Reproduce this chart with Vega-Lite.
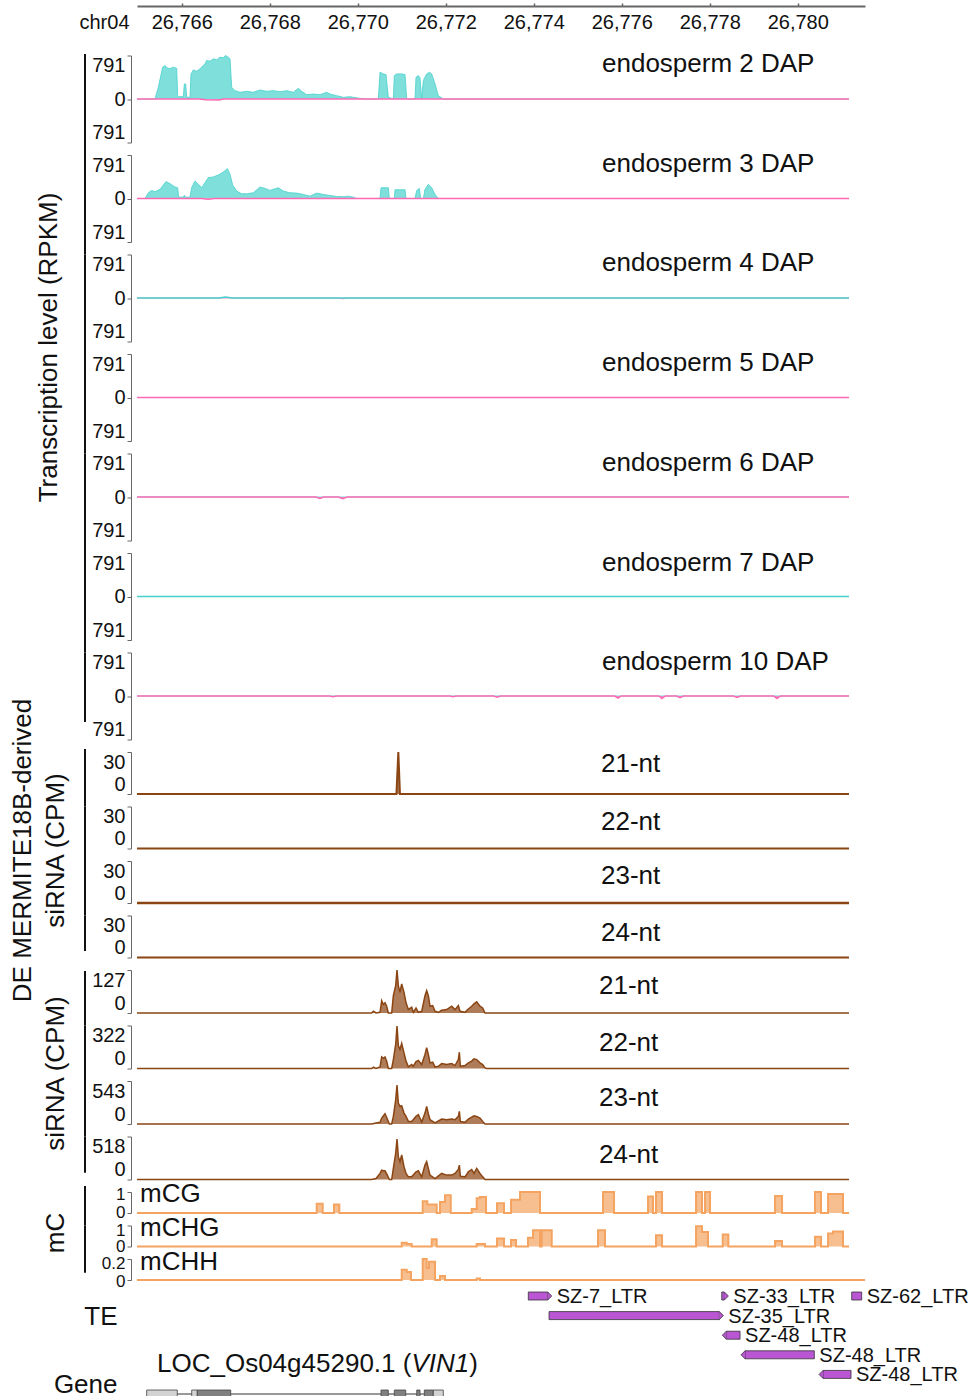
{
"$schema": "https://vega.github.io/schema/vega-lite/v6.json",
"padding": {"left": 9, "top": 2, "right": 5, "bottom": 0},
"background": "white",
"spacing": 12.5,
"bounds": "flush",
"config": {
 "font": "Liberation Sans",
 "view": {"stroke": null},
 "axis": {"grid": false, "labelColor": "#111", "titleColor": "#111", "titleFontWeight": "normal", "labelOverlap": false},
 "axisY": {"domainColor": "#666", "tickColor": "#666", "tickSize": 4, "labelFontSize": 20, "labelPadding": 2, "offset": 6, "titleFontSize": 26, "labelFlush": true},
 "area": {"opacity": 1},
 "text": {"fontSize": 26, "color": "#111"}
},
"datasets": {
 "flat": [{"pos":26764.984,"val":0},{"pos":26781.165,"val":0}],
 "e2p": [{"pos":26764.984,"val":0},{"pos":26765.393,"val":0},{"pos":26765.469,"val":213},{"pos":26765.567,"val":578},{"pos":26765.620,"val":608},{"pos":26765.673,"val":566},{"pos":26765.734,"val":548},{"pos":26765.795,"val":578},{"pos":26765.886,"val":560},{"pos":26765.908,"val":61},{"pos":26765.931,"val":43},{"pos":26766.037,"val":43},{"pos":26766.060,"val":274},{"pos":26766.090,"val":274},{"pos":26766.113,"val":43},{"pos":26766.151,"val":30},{"pos":26766.189,"val":30},{"pos":26766.211,"val":456},{"pos":26766.264,"val":529},{"pos":26766.340,"val":505},{"pos":26766.416,"val":548},{"pos":26766.529,"val":639},{"pos":26766.567,"val":700},{"pos":26766.643,"val":688},{"pos":26766.719,"val":730},{"pos":26766.795,"val":712},{"pos":26766.870,"val":761},{"pos":26766.946,"val":748},{"pos":26766.992,"val":791},{"pos":26767.060,"val":761},{"pos":26767.098,"val":730},{"pos":26767.136,"val":213},{"pos":26767.211,"val":152},{"pos":26767.325,"val":122},{"pos":26767.476,"val":140},{"pos":26767.628,"val":122},{"pos":26767.779,"val":164},{"pos":26767.931,"val":140},{"pos":26768.082,"val":152},{"pos":26768.234,"val":134},{"pos":26768.386,"val":152},{"pos":26768.537,"val":122},{"pos":26768.651,"val":195},{"pos":26768.726,"val":140},{"pos":26768.840,"val":79},{"pos":26768.992,"val":91},{"pos":26769.143,"val":79},{"pos":26769.295,"val":122},{"pos":26769.370,"val":91},{"pos":26769.522,"val":61},{"pos":26769.673,"val":30},{"pos":26769.825,"val":43},{"pos":26769.901,"val":30},{"pos":26770.052,"val":12},{"pos":26770.166,"val":0},{"pos":26770.469,"val":0},{"pos":26770.507,"val":487},{"pos":26770.582,"val":456},{"pos":26770.643,"val":444},{"pos":26770.696,"val":30},{"pos":26770.810,"val":0},{"pos":26770.832,"val":426},{"pos":26770.886,"val":456},{"pos":26770.999,"val":456},{"pos":26771.075,"val":444},{"pos":26771.113,"val":0},{"pos":26771.302,"val":0},{"pos":26771.325,"val":396},{"pos":26771.378,"val":426},{"pos":26771.416,"val":383},{"pos":26771.454,"val":0},{"pos":26771.492,"val":335},{"pos":26771.567,"val":456},{"pos":26771.628,"val":487},{"pos":26771.681,"val":456},{"pos":26771.757,"val":274},{"pos":26771.832,"val":61},{"pos":26771.946,"val":0},{"pos":26781.165,"val":0}],
 "e2m": [{"pos":26764.984,"val":0},{"pos":26766.40,"val":0},{"pos":26766.55,"val":-15},{"pos":26766.85,"val":-18},{"pos":26766.95,"val":0},{"pos":26781.165,"val":0}],
 "e3p": [{"pos":26764.984,"val":0},{"pos":26765.166,"val":0},{"pos":26765.242,"val":104},{"pos":26765.317,"val":147},{"pos":26765.393,"val":123},{"pos":26765.507,"val":166},{"pos":26765.643,"val":307},{"pos":26765.734,"val":270},{"pos":26765.848,"val":209},{"pos":26765.908,"val":196},{"pos":26765.931,"val":25},{"pos":26766.037,"val":25},{"pos":26766.060,"val":61},{"pos":26766.090,"val":25},{"pos":26766.189,"val":25},{"pos":26766.226,"val":196},{"pos":26766.302,"val":319},{"pos":26766.378,"val":257},{"pos":26766.454,"val":196},{"pos":26766.529,"val":288},{"pos":26766.605,"val":380},{"pos":26766.719,"val":392},{"pos":26766.870,"val":441},{"pos":26766.984,"val":503},{"pos":26767.037,"val":546},{"pos":26767.098,"val":441},{"pos":26767.158,"val":245},{"pos":26767.249,"val":135},{"pos":26767.363,"val":86},{"pos":26767.476,"val":86},{"pos":26767.628,"val":104},{"pos":26767.779,"val":209},{"pos":26767.893,"val":184},{"pos":26768.007,"val":147},{"pos":26768.082,"val":166},{"pos":26768.196,"val":196},{"pos":26768.310,"val":135},{"pos":26768.461,"val":104},{"pos":26768.613,"val":98},{"pos":26768.764,"val":74},{"pos":26768.916,"val":43},{"pos":26769.067,"val":98},{"pos":26769.219,"val":74},{"pos":26769.370,"val":55},{"pos":26769.522,"val":37},{"pos":26769.673,"val":31},{"pos":26769.787,"val":43},{"pos":26769.901,"val":25},{"pos":26769.976,"val":0},{"pos":26770.507,"val":0},{"pos":26770.529,"val":196},{"pos":26770.696,"val":196},{"pos":26770.719,"val":0},{"pos":26770.832,"val":0},{"pos":26770.848,"val":159},{"pos":26771.075,"val":159},{"pos":26771.098,"val":0},{"pos":26771.302,"val":0},{"pos":26771.340,"val":147},{"pos":26771.401,"val":184},{"pos":26771.431,"val":0},{"pos":26771.492,"val":0},{"pos":26771.529,"val":166},{"pos":26771.605,"val":257},{"pos":26771.681,"val":196},{"pos":26771.757,"val":74},{"pos":26771.832,"val":0},{"pos":26781.165,"val":0}],
 "e3m": [{"pos":26764.984,"val":0},{"pos":26766.45,"val":0},{"pos":26766.6,"val":-12},{"pos":26766.75,"val":0},{"pos":26781.165,"val":0}],
 "e4p": [{"pos":26764.984,"val":0},{"pos":26766.85,"val":0},{"pos":26767.0,"val":18},{"pos":26767.15,"val":0},{"pos":26781.165,"val":0}],
 "e4m": [{"pos":26764.984,"val":0},{"pos":26769.55,"val":0},{"pos":26769.66,"val":-15},{"pos":26769.77,"val":0},{"pos":26781.165,"val":0}],
 "e6m": [{"pos":26764.984,"val":0},{"pos":26769.05,"val":0},{"pos":26769.14,"val":-25},{"pos":26769.23,"val":0},{"pos":26769.56,"val":0},{"pos":26769.66,"val":-30},{"pos":26769.76,"val":0},{"pos":26781.165,"val":0}],
 "e10m": [{"pos":26764.984,"val":0},{"pos":26769.36,"val":0},{"pos":26769.439,"val":-15},{"pos":26769.52,"val":0},{"pos":26772.09,"val":0},{"pos":26772.166,"val":-15},{"pos":26772.24,"val":0},{"pos":26773.09,"val":0},{"pos":26773.166,"val":-20},{"pos":26773.24,"val":0},{"pos":26775.84,"val":0},{"pos":26775.916,"val":-40},{"pos":26775.99,"val":0},{"pos":26776.84,"val":0},{"pos":26776.916,"val":-45},{"pos":26776.99,"val":0},{"pos":26777.25,"val":0},{"pos":26777.325,"val":-30},{"pos":26777.40,"val":0},{"pos":26778.54,"val":0},{"pos":26778.620,"val":-25},{"pos":26778.70,"val":0},{"pos":26779.45,"val":0},{"pos":26779.529,"val":-45},{"pos":26779.61,"val":0},{"pos":26781.165,"val":0}],
 "de21": [{"pos":26764.984,"val":0},{"pos":26770.88,"val":0},{"pos":26770.923,"val":30},{"pos":26770.96,"val":0},{"pos":26781.165,"val":0}],
 "s21": [{"pos":26764.984,"val":0},{"pos":26770.317,"val":0},{"pos":26770.355,"val":5},{"pos":26770.416,"val":0},{"pos":26770.507,"val":2},{"pos":26770.545,"val":36},{"pos":26770.582,"val":25},{"pos":26770.620,"val":30},{"pos":26770.658,"val":20},{"pos":26770.696,"val":0},{"pos":26770.772,"val":0},{"pos":26770.810,"val":51},{"pos":26770.863,"val":81},{"pos":26770.893,"val":127},{"pos":26770.923,"val":81},{"pos":26770.961,"val":61},{"pos":26770.999,"val":86},{"pos":26771.052,"val":61},{"pos":26771.098,"val":30},{"pos":26771.151,"val":10},{"pos":26771.226,"val":17},{"pos":26771.264,"val":2},{"pos":26771.325,"val":15},{"pos":26771.378,"val":2},{"pos":26771.454,"val":5},{"pos":26771.529,"val":51},{"pos":26771.567,"val":66},{"pos":26771.605,"val":51},{"pos":26771.643,"val":20},{"pos":26771.704,"val":22},{"pos":26771.757,"val":5},{"pos":26771.832,"val":2},{"pos":26771.908,"val":8},{"pos":26772.022,"val":10},{"pos":26772.136,"val":20},{"pos":26772.211,"val":10},{"pos":26772.287,"val":22},{"pos":26772.325,"val":5},{"pos":26772.439,"val":2},{"pos":26772.514,"val":12},{"pos":26772.590,"val":20},{"pos":26772.643,"val":27},{"pos":26772.704,"val":33},{"pos":26772.779,"val":20},{"pos":26772.840,"val":15},{"pos":26772.893,"val":0},{"pos":26781.165,"val":0}],
 "s22": [{"pos":26764.984,"val":0},{"pos":26770.317,"val":0},{"pos":26770.355,"val":10},{"pos":26770.416,"val":0},{"pos":26770.507,"val":12},{"pos":26770.545,"val":87},{"pos":26770.582,"val":77},{"pos":26770.620,"val":87},{"pos":26770.658,"val":55},{"pos":26770.696,"val":0},{"pos":26770.772,"val":0},{"pos":26770.810,"val":67},{"pos":26770.863,"val":180},{"pos":26770.893,"val":317},{"pos":26770.923,"val":172},{"pos":26770.961,"val":142},{"pos":26770.999,"val":187},{"pos":26771.052,"val":117},{"pos":26771.098,"val":55},{"pos":26771.151,"val":12},{"pos":26771.226,"val":30},{"pos":26771.264,"val":17},{"pos":26771.325,"val":52},{"pos":26771.378,"val":60},{"pos":26771.454,"val":30},{"pos":26771.529,"val":105},{"pos":26771.567,"val":155},{"pos":26771.605,"val":105},{"pos":26771.643,"val":42},{"pos":26771.704,"val":47},{"pos":26771.757,"val":12},{"pos":26771.832,"val":17},{"pos":26771.908,"val":37},{"pos":26772.022,"val":30},{"pos":26772.136,"val":37},{"pos":26772.211,"val":22},{"pos":26772.287,"val":67},{"pos":26772.310,"val":122},{"pos":26772.332,"val":17},{"pos":26772.439,"val":22},{"pos":26772.514,"val":42},{"pos":26772.590,"val":55},{"pos":26772.643,"val":72},{"pos":26772.704,"val":67},{"pos":26772.779,"val":42},{"pos":26772.840,"val":30},{"pos":26772.893,"val":5},{"pos":26772.93,"val":0},{"pos":26781.165,"val":0}],
 "s23": [{"pos":26764.984,"val":0},{"pos":26770.317,"val":0},{"pos":26770.416,"val":13},{"pos":26770.507,"val":21},{"pos":26770.545,"val":75},{"pos":26770.620,"val":129},{"pos":26770.673,"val":63},{"pos":26770.719,"val":0},{"pos":26770.772,"val":0},{"pos":26770.810,"val":96},{"pos":26770.863,"val":305},{"pos":26770.893,"val":493},{"pos":26770.923,"val":263},{"pos":26770.961,"val":221},{"pos":26770.999,"val":230},{"pos":26771.052,"val":138},{"pos":26771.098,"val":96},{"pos":26771.151,"val":33},{"pos":26771.226,"val":33},{"pos":26771.325,"val":96},{"pos":26771.378,"val":117},{"pos":26771.454,"val":25},{"pos":26771.529,"val":138},{"pos":26771.567,"val":221},{"pos":26771.605,"val":129},{"pos":26771.643,"val":54},{"pos":26771.757,"val":13},{"pos":26771.908,"val":63},{"pos":26772.022,"val":54},{"pos":26772.136,"val":63},{"pos":26772.211,"val":54},{"pos":26772.287,"val":96},{"pos":26772.310,"val":159},{"pos":26772.332,"val":33},{"pos":26772.439,"val":21},{"pos":26772.514,"val":63},{"pos":26772.590,"val":88},{"pos":26772.643,"val":104},{"pos":26772.704,"val":96},{"pos":26772.779,"val":75},{"pos":26772.840,"val":33},{"pos":26772.893,"val":0},{"pos":26781.165,"val":0}],
 "s24": [{"pos":26764.984,"val":0},{"pos":26770.317,"val":0},{"pos":26770.416,"val":12},{"pos":26770.507,"val":73},{"pos":26770.545,"val":113},{"pos":26770.582,"val":105},{"pos":26770.620,"val":105},{"pos":26770.673,"val":53},{"pos":26770.719,"val":0},{"pos":26770.772,"val":0},{"pos":26770.810,"val":134},{"pos":26770.863,"val":316},{"pos":26770.893,"val":486},{"pos":26770.923,"val":275},{"pos":26770.961,"val":214},{"pos":26770.999,"val":295},{"pos":26771.052,"val":154},{"pos":26771.098,"val":73},{"pos":26771.151,"val":32},{"pos":26771.226,"val":32},{"pos":26771.325,"val":93},{"pos":26771.378,"val":105},{"pos":26771.454,"val":32},{"pos":26771.529,"val":174},{"pos":26771.567,"val":214},{"pos":26771.605,"val":134},{"pos":26771.643,"val":53},{"pos":26771.757,"val":12},{"pos":26771.908,"val":73},{"pos":26772.022,"val":53},{"pos":26772.136,"val":53},{"pos":26772.211,"val":73},{"pos":26772.287,"val":121},{"pos":26772.310,"val":174},{"pos":26772.332,"val":40},{"pos":26772.439,"val":32},{"pos":26772.514,"val":93},{"pos":26772.590,"val":121},{"pos":26772.643,"val":73},{"pos":26772.704,"val":134},{"pos":26772.779,"val":73},{"pos":26772.840,"val":32},{"pos":26772.893,"val":0},{"pos":26781.165,"val":0}],
 "mcg": [{"pos":26764.984,"val":0},{"pos":26769.068,"val":0.44},{"pos":26769.204,"val":0},{"pos":26769.461,"val":0.40},{"pos":26769.582,"val":0},{"pos":26771.477,"val":0.56},{"pos":26771.582,"val":0.40},{"pos":26771.795,"val":0},{"pos":26771.870,"val":0.52},{"pos":26771.984,"val":0.84},{"pos":26772.114,"val":0},{"pos":26772.591,"val":0.19},{"pos":26772.704,"val":0.70},{"pos":26772.779,"val":0.76},{"pos":26772.916,"val":0},{"pos":26773.166,"val":0.47},{"pos":26773.325,"val":0},{"pos":26773.484,"val":0.63},{"pos":26773.689,"val":1.0},{"pos":26774.143,"val":0},{"pos":26775.575,"val":1.0},{"pos":26775.825,"val":0},{"pos":26776.598,"val":0.79},{"pos":26776.711,"val":0},{"pos":26776.779,"val":1.0},{"pos":26776.916,"val":0},{"pos":26777.689,"val":1.0},{"pos":26777.825,"val":0},{"pos":26777.893,"val":1.0},{"pos":26778.007,"val":0},{"pos":26779.484,"val":0.81},{"pos":26779.643,"val":0},{"pos":26780.393,"val":1.0},{"pos":26780.529,"val":0},{"pos":26780.689,"val":0.9},{"pos":26781.029,"val":0},{"pos":26781.165,"val":0}],
 "mchg": [{"pos":26764.984,"val":0},{"pos":26771.0,"val":0.18},{"pos":26771.114,"val":0.12},{"pos":26771.227,"val":0},{"pos":26771.682,"val":0.35},{"pos":26771.795,"val":0},{"pos":26772.704,"val":0.12},{"pos":26772.893,"val":0},{"pos":26773.166,"val":0.38},{"pos":26773.325,"val":0},{"pos":26773.484,"val":0.31},{"pos":26773.598,"val":0},{"pos":26773.870,"val":0.42},{"pos":26773.984,"val":0.77},{"pos":26774.143,"val":0},{"pos":26774.182,"val":0.77},{"pos":26774.409,"val":0},{"pos":26775.461,"val":0.77},{"pos":26775.620,"val":0},{"pos":26776.779,"val":0.54},{"pos":26776.916,"val":0},{"pos":26777.689,"val":0.97},{"pos":26777.825,"val":0.69},{"pos":26777.961,"val":0},{"pos":26778.295,"val":0.57},{"pos":26778.423,"val":0},{"pos":26779.484,"val":0.26},{"pos":26779.643,"val":0},{"pos":26780.393,"val":0.46},{"pos":26780.529,"val":0},{"pos":26780.689,"val":0.62},{"pos":26780.802,"val":0.72},{"pos":26781.029,"val":0},{"pos":26781.165,"val":0}],
 "mchh": [{"pos":26764.984,"val":0},{"pos":26771.0,"val":0.098},{"pos":26771.114,"val":0.077},{"pos":26771.211,"val":0},{"pos":26771.477,"val":0.2},{"pos":26771.568,"val":0.114},{"pos":26771.620,"val":0.175},{"pos":26771.757,"val":0},{"pos":26771.870,"val":0.037},{"pos":26771.984,"val":0},{"pos":26772.704,"val":0.015},{"pos":26772.779,"val":0},{"pos":26781.53,"val":0}],
 "te": [{"name":"SZ-7_LTR","start":26773.877,"end":26774.409,"lane":1,"strand":"+"},{"name":"SZ-33_LTR","start":26778.273,"end":26778.423,"lane":1,"strand":"+"},{"name":"SZ-62_LTR","start":26781.227,"end":26781.454,"lane":1,"strand":"."},{"name":"SZ-35_LTR","start":26774.348,"end":26778.309,"lane":2,"strand":"+"},{"name":"SZ-48_LTR","start":26778.286,"end":26778.689,"lane":3,"strand":"-"},{"name":"SZ-48_LTR","start":26778.711,"end":26780.377,"lane":4,"strand":"-"},{"name":"SZ-48_LTR","start":26780.484,"end":26781.211,"lane":5,"strand":"-"}],
 "gene": [{"part":"intron","start":26765.204,"end":26771.945},{"part":"UTR","start":26765.204,"end":26765.900},{"part":"UTR","start":26766.227,"end":26766.354},{"part":"CDS","start":26766.354,"end":26767.114},{"part":"CDS","start":26770.529,"end":26770.695},{"part":"CDS","start":26770.832,"end":26771.091},{"part":"CDS","start":26771.341,"end":26771.416},{"part":"CDS","start":26771.514,"end":26771.718},{"part":"UTR","start":26771.718,"end":26771.945}]
},
"vconcat": [
 {"width":728,"height":37,"data":{"values":[{"pos":26770}]},"mark":{"type":"point","opacity":0},
  "encoding":{"x":{"field":"pos","type":"quantitative","scale":{"domain":[26764.984,26781.529],"nice":false},
   "axis":{"orient":"top","values":[26766,26768,26770,26772,26774,26776,26778,26780],"format":",d","tickSize":3,"labelPadding":-19,"labelBaseline":"middle","labelFontSize":20,"labelFlush":false,"domainColor":"#666","domainWidth":2,"tickColor":"#666","tickWidth":1.5,"title":"chr04","titleAngle":0,"titleX":-33,"titleY":16,"titleAlign":"center","titleBaseline":"middle","titleFontSize":20}}}},

 {"width":712,"height":87,"layer":[
  {"data":{"name":"e2p"},"mark":{"type":"area","color":"#48d1cc","line":{"color":"#48d1cc","strokeWidth":0.8}},"encoding":{"x":{"field":"pos","type":"quantitative","scale":{"domain":[26764.984,26781.165],"nice":false},"axis":null},"y":{"field":"val","type":"quantitative","scale":{"domain":[-791,791],"nice":false},"axis":{"values":[-791,0,791],"labelExpr":"abs(datum.value)","title":"Transcription level (RPKM)","titleX":-82.5,"titleY":291.5,"titleAngle":-90,"titleAlign":"center","titleBaseline":"middle"}}}},
  {"data":{"name":"e2m"},"mark":{"type":"area","color":"#ff69b4","line":{"color":"#ff69b4","strokeWidth":1.5}},"encoding":{"x":{"field":"pos","type":"quantitative"},"y":{"field":"val","type":"quantitative"}}},
  {"data":{"values":[{}]},"mark":{"type":"text","text":"endosperm 2 DAP","align":"left","baseline":"alphabetic","dy":16.5},"encoding":{"x":{"datum":26775.552},"y":{"datum":791}}},
  {"data":{"values":[{}]},"mark":{"type":"rule","color":"#111","strokeWidth":2,"xOffset":-52,"yOffset":-1.5,"y2Offset":12.5},"encoding":{"x":{"datum":26764.984},"y":{"datum":791},"y2":{"datum":-791}}}
 ]},
 {"width":712,"height":87,"layer":[
  {"data":{"name":"e3p"},"mark":{"type":"area","color":"#48d1cc","line":{"color":"#48d1cc","strokeWidth":0.8}},"encoding":{"x":{"field":"pos","type":"quantitative","scale":{"domain":[26764.984,26781.165],"nice":false},"axis":null},"y":{"field":"val","type":"quantitative","scale":{"domain":[-791,791],"nice":false},"axis":{"values":[-791,0,791],"labelExpr":"abs(datum.value)","title":null}}}},
  {"data":{"name":"e3m"},"mark":{"type":"area","color":"#ff69b4","line":{"color":"#ff69b4","strokeWidth":1.5}},"encoding":{"x":{"field":"pos","type":"quantitative"},"y":{"field":"val","type":"quantitative"}}},
  {"data":{"values":[{}]},"mark":{"type":"text","text":"endosperm 3 DAP","align":"left","baseline":"alphabetic","dy":16.5},"encoding":{"x":{"datum":26775.552},"y":{"datum":791}}},
  {"data":{"values":[{}]},"mark":{"type":"rule","color":"#111","strokeWidth":2,"xOffset":-52,"y2Offset":12.5},"encoding":{"x":{"datum":26764.984},"y":{"datum":791},"y2":{"datum":-791}}}
 ]},
 {"width":712,"height":87,"layer":[
  {"data":{"name":"e4m"},"mark":{"type":"area","color":"#ff69b4","line":{"color":"#ff69b4","strokeWidth":0.8}},"encoding":{"x":{"field":"pos","type":"quantitative","scale":{"domain":[26764.984,26781.165],"nice":false},"axis":null},"y":{"field":"val","type":"quantitative","scale":{"domain":[-791,791],"nice":false},"axis":{"values":[-791,0,791],"labelExpr":"abs(datum.value)","title":null}}}},
  {"data":{"name":"e4p"},"mark":{"type":"area","color":"#48d1cc","line":{"color":"#48d1cc","strokeWidth":1.5}},"encoding":{"x":{"field":"pos","type":"quantitative"},"y":{"field":"val","type":"quantitative"}}},
  {"data":{"values":[{}]},"mark":{"type":"text","text":"endosperm 4 DAP","align":"left","baseline":"alphabetic","dy":16.5},"encoding":{"x":{"datum":26775.552},"y":{"datum":791}}},
  {"data":{"values":[{}]},"mark":{"type":"rule","color":"#111","strokeWidth":2,"xOffset":-52,"y2Offset":12.5},"encoding":{"x":{"datum":26764.984},"y":{"datum":791},"y2":{"datum":-791}}}
 ]},
 {"width":712,"height":87,"layer":[
  {"data":{"name":"flat"},"mark":{"type":"area","color":"#48d1cc","line":{"color":"#48d1cc","strokeWidth":0.8}},"encoding":{"x":{"field":"pos","type":"quantitative","scale":{"domain":[26764.984,26781.165],"nice":false},"axis":null},"y":{"field":"val","type":"quantitative","scale":{"domain":[-791,791],"nice":false},"axis":{"values":[-791,0,791],"labelExpr":"abs(datum.value)","title":null}}}},
  {"data":{"name":"flat"},"mark":{"type":"area","color":"#ff69b4","line":{"color":"#ff69b4","strokeWidth":1.5}},"encoding":{"x":{"field":"pos","type":"quantitative"},"y":{"field":"val","type":"quantitative"}}},
  {"data":{"values":[{}]},"mark":{"type":"text","text":"endosperm 5 DAP","align":"left","baseline":"alphabetic","dy":17},"encoding":{"x":{"datum":26775.552},"y":{"datum":791}}},
  {"data":{"values":[{}]},"mark":{"type":"rule","color":"#111","strokeWidth":2,"xOffset":-52,"y2Offset":12.5},"encoding":{"x":{"datum":26764.984},"y":{"datum":791},"y2":{"datum":-791}}}
 ]},
 {"width":712,"height":87,"layer":[
  {"data":{"name":"flat"},"mark":{"type":"area","color":"#48d1cc","line":{"color":"#48d1cc","strokeWidth":0.8}},"encoding":{"x":{"field":"pos","type":"quantitative","scale":{"domain":[26764.984,26781.165],"nice":false},"axis":null},"y":{"field":"val","type":"quantitative","scale":{"domain":[-791,791],"nice":false},"axis":{"values":[-791,0,791],"labelExpr":"abs(datum.value)","title":null}}}},
  {"data":{"name":"e6m"},"mark":{"type":"area","color":"#ff69b4","line":{"color":"#ff69b4","strokeWidth":1.5}},"encoding":{"x":{"field":"pos","type":"quantitative"},"y":{"field":"val","type":"quantitative"}}},
  {"data":{"values":[{}]},"mark":{"type":"text","text":"endosperm 6 DAP","align":"left","baseline":"alphabetic","dy":17},"encoding":{"x":{"datum":26775.552},"y":{"datum":791}}},
  {"data":{"values":[{}]},"mark":{"type":"rule","color":"#111","strokeWidth":2,"xOffset":-52,"y2Offset":12.5},"encoding":{"x":{"datum":26764.984},"y":{"datum":791},"y2":{"datum":-791}}}
 ]},
 {"width":712,"height":87,"layer":[
  {"data":{"name":"flat"},"mark":{"type":"area","color":"#ff69b4","line":{"color":"#ff69b4","strokeWidth":0.8}},"encoding":{"x":{"field":"pos","type":"quantitative","scale":{"domain":[26764.984,26781.165],"nice":false},"axis":null},"y":{"field":"val","type":"quantitative","scale":{"domain":[-791,791],"nice":false},"axis":{"values":[-791,0,791],"labelExpr":"abs(datum.value)","title":null}}}},
  {"data":{"name":"flat"},"mark":{"type":"area","color":"#48d1cc","line":{"color":"#48d1cc","strokeWidth":1.5}},"encoding":{"x":{"field":"pos","type":"quantitative"},"y":{"field":"val","type":"quantitative"}}},
  {"data":{"values":[{}]},"mark":{"type":"text","text":"endosperm 7 DAP","align":"left","baseline":"alphabetic","dy":17.5},"encoding":{"x":{"datum":26775.552},"y":{"datum":791}}},
  {"data":{"values":[{}]},"mark":{"type":"rule","color":"#111","strokeWidth":2,"xOffset":-52,"y2Offset":12.5},"encoding":{"x":{"datum":26764.984},"y":{"datum":791},"y2":{"datum":-791}}}
 ]},
 {"width":712,"height":87,"layer":[
  {"data":{"name":"flat"},"mark":{"type":"area","color":"#48d1cc","line":{"color":"#48d1cc","strokeWidth":0.8}},"encoding":{"x":{"field":"pos","type":"quantitative","scale":{"domain":[26764.984,26781.165],"nice":false},"axis":null},"y":{"field":"val","type":"quantitative","scale":{"domain":[-791,791],"nice":false},"axis":{"values":[-791,0,791],"labelExpr":"abs(datum.value)","title":null}}}},
  {"data":{"name":"e10m"},"mark":{"type":"area","color":"#ff69b4","line":{"color":"#ff69b4","strokeWidth":1.5}},"encoding":{"x":{"field":"pos","type":"quantitative"},"y":{"field":"val","type":"quantitative"}}},
  {"data":{"values":[{}]},"mark":{"type":"text","text":"endosperm 10 DAP","align":"left","baseline":"alphabetic","dy":17.5},"encoding":{"x":{"datum":26775.552},"y":{"datum":791}}},
  {"data":{"values":[{}]},"mark":{"type":"rule","color":"#111","strokeWidth":2,"xOffset":-52,"y2Offset":-17.5},"encoding":{"x":{"datum":26764.984},"y":{"datum":791},"y2":{"datum":-791}}}
 ]},

 {"width":712,"height":42,"layer":[
  {"data":{"name":"de21"},"mark":{"type":"area","color":"#8b4513","line":{"color":"#8b4513","strokeWidth":2}},"encoding":{"x":{"field":"pos","type":"quantitative","scale":{"domain":[26764.984,26781.165],"nice":false},"axis":null},"y":{"field":"val","type":"quantitative","scale":{"domain":[0,30],"nice":false},"axis":{"values":[0,30],"title":["DE MERMITE18B-derived","siRNA (CPM)"],"titleX":-109,"titleY":98,"titleAngle":-90,"titleAlign":"center","titleBaseline":"middle","titleLineHeight":33}}}},
  {"data":{"values":[{}]},"mark":{"type":"text","text":"21-nt","align":"left","baseline":"middle","dy":12},"encoding":{"x":{"datum":26775.529},"y":{"datum":30}}},
  {"data":{"values":[{}]},"mark":{"type":"rule","color":"#111","strokeWidth":2,"xOffset":-52,"yOffset":-3,"y2Offset":12.5},"encoding":{"x":{"datum":26764.984},"y":{"datum":30},"y2":{"datum":0}}}
 ]},
 {"width":712,"height":42,"layer":[
  {"data":{"name":"flat"},"mark":{"type":"area","color":"#8b4513","line":{"color":"#8b4513","strokeWidth":2}},"encoding":{"x":{"field":"pos","type":"quantitative","scale":{"domain":[26764.984,26781.165],"nice":false},"axis":null},"y":{"field":"val","type":"quantitative","scale":{"domain":[0,30],"nice":false},"axis":{"values":[0,30],"title":null}}}},
  {"data":{"values":[{}]},"mark":{"type":"text","text":"22-nt","align":"left","baseline":"middle","dy":15.5},"encoding":{"x":{"datum":26775.529},"y":{"datum":30}}},
  {"data":{"values":[{}]},"mark":{"type":"rule","color":"#111","strokeWidth":2,"xOffset":-52,"y2Offset":12.5},"encoding":{"x":{"datum":26764.984},"y":{"datum":30},"y2":{"datum":0}}}
 ]},
 {"width":712,"height":42,"layer":[
  {"data":{"name":"flat"},"mark":{"type":"area","color":"#8b4513","line":{"color":"#8b4513","strokeWidth":2.5}},"encoding":{"x":{"field":"pos","type":"quantitative","scale":{"domain":[26764.984,26781.165],"nice":false},"axis":null},"y":{"field":"val","type":"quantitative","scale":{"domain":[0,30],"nice":false},"axis":{"values":[0,30],"title":null}}}},
  {"data":{"values":[{}]},"mark":{"type":"text","text":"23-nt","align":"left","baseline":"middle","dy":15},"encoding":{"x":{"datum":26775.529},"y":{"datum":30}}},
  {"data":{"values":[{}]},"mark":{"type":"rule","color":"#111","strokeWidth":2,"xOffset":-52,"y2Offset":12.5},"encoding":{"x":{"datum":26764.984},"y":{"datum":30},"y2":{"datum":0}}}
 ]},
 {"width":712,"height":42,"layer":[
  {"data":{"name":"flat"},"mark":{"type":"area","color":"#8b4513","line":{"color":"#8b4513","strokeWidth":2}},"encoding":{"x":{"field":"pos","type":"quantitative","scale":{"domain":[26764.984,26781.165],"nice":false},"axis":null},"y":{"field":"val","type":"quantitative","scale":{"domain":[0,30],"nice":false},"axis":{"values":[0,30],"title":null}}}},
  {"data":{"values":[{}]},"mark":{"type":"text","text":"24-nt","align":"left","baseline":"middle","dy":17.5},"encoding":{"x":{"datum":26775.529},"y":{"datum":30}}},
  {"data":{"values":[{}]},"mark":{"type":"rule","color":"#111","strokeWidth":2,"xOffset":-52,"y2Offset":-6.5},"encoding":{"x":{"datum":26764.984},"y":{"datum":30},"y2":{"datum":0}}}
 ]},

 {"width":712,"height":43,"layer":[
  {"data":{"name":"s21"},"mark":{"type":"area","color":"#8b4513","line":{"color":"#8b4513","strokeWidth":1.5}},"encoding":{"x":{"field":"pos","type":"quantitative","scale":{"domain":[26764.984,26781.165],"nice":false},"axis":null},"y":{"field":"val","type":"quantitative","scale":{"domain":[0,127],"nice":false},"axis":{"values":[0,127],"title":"siRNA (CPM)","titleX":-76,"titleY":103,"titleAngle":-90,"titleAlign":"center","titleBaseline":"middle"}}}},
  {"data":{"values":[{}]},"mark":{"type":"text","text":"21-nt","align":"left","baseline":"middle","dy":16},"encoding":{"x":{"datum":26775.484},"y":{"datum":127}}},
  {"data":{"values":[{}]},"mark":{"type":"rule","color":"#111","strokeWidth":2,"xOffset":-52,"yOffset":1,"y2Offset":12.5},"encoding":{"x":{"datum":26764.984},"y":{"datum":127},"y2":{"datum":0}}}
 ]},
 {"width":712,"height":43,"layer":[
  {"data":{"name":"s22"},"mark":{"type":"area","color":"#8b4513","line":{"color":"#8b4513","strokeWidth":1.5}},"encoding":{"x":{"field":"pos","type":"quantitative","scale":{"domain":[26764.984,26781.165],"nice":false},"axis":null},"y":{"field":"val","type":"quantitative","scale":{"domain":[0,322],"nice":false},"axis":{"values":[0,322],"title":null}}}},
  {"data":{"values":[{}]},"mark":{"type":"text","text":"22-nt","align":"left","baseline":"middle","dy":17.5},"encoding":{"x":{"datum":26775.484},"y":{"datum":322}}},
  {"data":{"values":[{}]},"mark":{"type":"rule","color":"#111","strokeWidth":2,"xOffset":-52,"y2Offset":12.5},"encoding":{"x":{"datum":26764.984},"y":{"datum":322},"y2":{"datum":0}}}
 ]},
 {"width":712,"height":43,"layer":[
  {"data":{"name":"s23"},"mark":{"type":"area","color":"#8b4513","line":{"color":"#8b4513","strokeWidth":1.5}},"encoding":{"x":{"field":"pos","type":"quantitative","scale":{"domain":[26764.984,26781.165],"nice":false},"axis":null},"y":{"field":"val","type":"quantitative","scale":{"domain":[0,543],"nice":false},"axis":{"values":[0,543],"title":null}}}},
  {"data":{"values":[{}]},"mark":{"type":"text","text":"23-nt","align":"left","baseline":"middle","dy":17},"encoding":{"x":{"datum":26775.484},"y":{"datum":543}}},
  {"data":{"values":[{}]},"mark":{"type":"rule","color":"#111","strokeWidth":2,"xOffset":-52,"y2Offset":12.5},"encoding":{"x":{"datum":26764.984},"y":{"datum":543},"y2":{"datum":0}}}
 ]},
 {"width":712,"height":43,"layer":[
  {"data":{"name":"s24"},"mark":{"type":"area","color":"#8b4513","line":{"color":"#8b4513","strokeWidth":1.5}},"encoding":{"x":{"field":"pos","type":"quantitative","scale":{"domain":[26764.984,26781.165],"nice":false},"axis":null},"y":{"field":"val","type":"quantitative","scale":{"domain":[0,518],"nice":false},"axis":{"values":[0,518],"title":null}}}},
  {"data":{"values":[{}]},"mark":{"type":"text","text":"24-nt","align":"left","baseline":"middle","dy":18.5},"encoding":{"x":{"datum":26775.484},"y":{"datum":518}}},
  {"data":{"values":[{}]},"mark":{"type":"rule","color":"#111","strokeWidth":2,"xOffset":-52,"y2Offset":-6.8},"encoding":{"x":{"datum":26764.984},"y":{"datum":518},"y2":{"datum":0}}}
 ]},

 {"width":712,"height":21,"layer":[
  {"data":{"name":"mcg"},"mark":{"type":"area","color":"#f4a460","interpolate":"step-after","line":{"color":"#f4a460","strokeWidth":2,"interpolate":"step-after"}},"encoding":{"x":{"field":"pos","type":"quantitative","scale":{"domain":[26764.984,26781.165],"nice":false},"axis":null},"y":{"field":"val","type":"quantitative","scale":{"domain":[0,1],"nice":false},"axis":{"values":[0,1],"format":"~g","labelFontSize":17,"labelFlush":false,"labelOffset":{"condition":{"test":"datum.value > 0","value":2},"value":-1},"title":"mC","titleX":-76,"titleY":40.5,"titleAngle":-90,"titleAlign":"center","titleBaseline":"middle"}}}},
  {"data":{"values":[{}]},"mark":{"type":"text","text":"mCG","align":"left","baseline":"middle","dy":2},"encoding":{"x":{"datum":26765.052},"y":{"datum":1}}},
  {"data":{"values":[{}]},"mark":{"type":"rule","color":"#111","strokeWidth":2,"xOffset":-52,"yOffset":-6,"y2Offset":12.5},"encoding":{"x":{"datum":26764.984},"y":{"datum":1},"y2":{"datum":0}}}
 ]},
 {"width":712,"height":21,"layer":[
  {"data":{"name":"mchg"},"mark":{"type":"area","color":"#f4a460","interpolate":"step-after","line":{"color":"#f4a460","strokeWidth":2,"interpolate":"step-after"}},"encoding":{"x":{"field":"pos","type":"quantitative","scale":{"domain":[26764.984,26781.165],"nice":false},"axis":null},"y":{"field":"val","type":"quantitative","scale":{"domain":[0,1],"nice":false},"axis":{"values":[0,1],"format":"~g","labelFontSize":17,"labelFlush":false,"labelOffset":{"condition":{"test":"datum.value > 0","value":4.5},"value":0},"title":null}}}},
  {"data":{"values":[{}]},"mark":{"type":"text","text":"mCHG","align":"left","baseline":"middle","dy":2},"encoding":{"x":{"datum":26765.052},"y":{"datum":1}}},
  {"data":{"values":[{}]},"mark":{"type":"rule","color":"#111","strokeWidth":2,"xOffset":-52,"y2Offset":12.5},"encoding":{"x":{"datum":26764.984},"y":{"datum":1},"y2":{"datum":0}}}
 ]},
 {"width":712,"height":21,"layer":[
  {"data":{"name":"mchh"},"mark":{"type":"area","color":"#f4a460","interpolate":"step-after","line":{"color":"#f4a460","strokeWidth":2,"interpolate":"step-after"}},"encoding":{"x":{"field":"pos","type":"quantitative","scale":{"domain":[26764.984,26781.165],"nice":false},"axis":null},"y":{"field":"val","type":"quantitative","scale":{"domain":[0,0.2],"nice":false},"axis":{"values":[0,0.2],"format":"~g","labelFontSize":17,"labelFlush":false,"labelOffset":{"condition":{"test":"datum.value > 0","value":4.5},"value":1.5},"title":null}}}},
  {"data":{"values":[{}]},"mark":{"type":"text","text":"mCHH","align":"left","baseline":"middle","dy":3},"encoding":{"x":{"datum":26765.052},"y":{"datum":0.2}}},
  {"data":{"values":[{}]},"mark":{"type":"rule","color":"#111","strokeWidth":2,"xOffset":-52,"y2Offset":-7.3},"encoding":{"x":{"datum":26764.984},"y":{"datum":0.2},"y2":{"datum":0}}}
 ]},

 {"width":712,"height":105,"layer":[
  {"data":{"name":"te"},"transform":[{"filter":"datum.strand == '+'"}],"mark":{"type":"bar","color":"#ba55d3","stroke":"#333","strokeWidth":0.8,"height":8,"x2Offset":-4},"encoding":{"x":{"field":"start","type":"quantitative","scale":{"domain":[26764.984,26781.165],"nice":false},"axis":null},"x2":{"field":"end"},"y":{"field":"lane","type":"quantitative","scale":{"domain":[0.821,6.178],"nice":false,"zero":false,"padding":0,"reverse":true},"axis":{"values":[2.07,5.49],"labelExpr":"datum.value < 3 ? 'TE' : 'Gene'","domain":false,"ticks":false,"labelFontSize":26,"labelPadding":20,"offset":0,"labelFlush":false,"title":null}}}},
  {"data":{"name":"te"},"transform":[{"filter":"datum.strand == '-'"}],"mark":{"type":"bar","color":"#ba55d3","stroke":"#333","strokeWidth":0.8,"height":8,"xOffset":4},"encoding":{"x":{"field":"start","type":"quantitative"},"x2":{"field":"end"},"y":{"field":"lane","type":"quantitative"}}},
  {"data":{"name":"te"},"transform":[{"filter":"datum.strand == '.'"}],"mark":{"type":"bar","color":"#ba55d3","stroke":"#333","strokeWidth":0.8,"height":8},"encoding":{"x":{"field":"start","type":"quantitative"},"x2":{"field":"end"},"y":{"field":"lane","type":"quantitative"}}},
  {"data":{"name":"te"},"transform":[{"filter":"datum.strand == '+'"}],"mark":{"type":"point","shape":"M -1 -1 L 0 0 L -1 1","size":64,"filled":true,"color":"#ba55d3","stroke":"#333","strokeWidth":0.8,"opacity":1},"encoding":{"x":{"field":"end","type":"quantitative"},"y":{"field":"lane","type":"quantitative"}}},
  {"data":{"name":"te"},"transform":[{"filter":"datum.strand == '-'"}],"mark":{"type":"point","shape":"M 1 -1 L 0 0 L 1 1","size":64,"filled":true,"color":"#ba55d3","stroke":"#333","strokeWidth":0.8,"opacity":1},"encoding":{"x":{"field":"start","type":"quantitative"},"y":{"field":"lane","type":"quantitative"}}},
  {"data":{"name":"te"},"mark":{"type":"text","align":"left","baseline":"middle","dx":5,"dy":1,"fontSize":20},"encoding":{"x":{"field":"end","type":"quantitative"},"y":{"field":"lane","type":"quantitative"},"text":{"field":"name"}}},
  {"data":{"name":"gene"},"transform":[{"filter":"datum.part == 'intron'"}],"mark":{"type":"rule","color":"#333","strokeWidth":1},"encoding":{"x":{"field":"start","type":"quantitative"},"x2":{"field":"end"},"y":{"datum":6.0}}},
  {"data":{"name":"gene"},"transform":[{"filter":"datum.part != 'intron'"}],"mark":{"type":"bar","stroke":"#444","strokeWidth":0.8,"height":8},"encoding":{"x":{"field":"start","type":"quantitative"},"x2":{"field":"end"},"y":{"datum":6.0},"color":{"field":"part","type":"nominal","scale":{"domain":["UTR","CDS"],"range":["#d3d3d3","#808080"]},"legend":null}}},
  {"data":{"values":[{}]},"mark":{"type":"text","text":"LOC_Os04g45290.1 (","align":"left","baseline":"middle"},"encoding":{"x":{"datum":26765.439},"y":{"datum":4.47}}},
  {"data":{"values":[{}]},"mark":{"type":"text","text":"VIN1","align":"left","baseline":"middle","fontStyle":"italic"},"encoding":{"x":{"datum":26771.22},"y":{"datum":4.47}}},
  {"data":{"values":[{}]},"mark":{"type":"text","text":")","align":"left","baseline":"middle"},"encoding":{"x":{"datum":26772.534},"y":{"datum":4.47}}}
 ]}
]
}
